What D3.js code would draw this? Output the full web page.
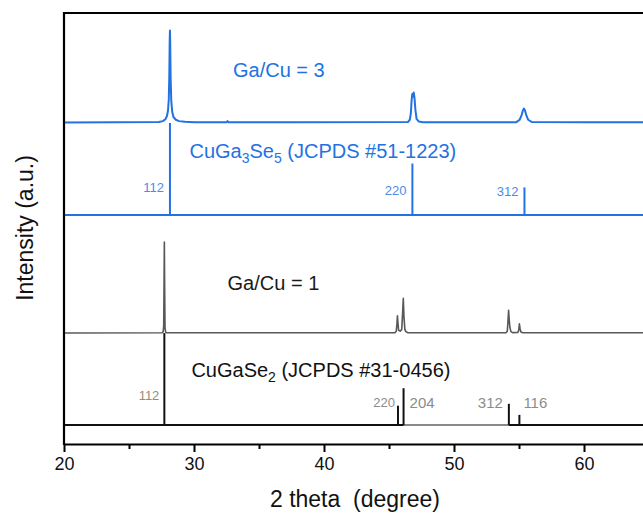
<!DOCTYPE html>
<html>
<head>
<meta charset="utf-8">
<script src="https://cdn.jsdelivr.net/npm/d3@7"></script>
<style>
  html, body { margin: 0; padding: 0; background: #fff; }
  svg { display: block; font-family: "Liberation Sans", Arial, sans-serif; }
</style>
</head>
<body>
<svg id="chart" width="643" height="514"></svg>
<script>
// ---- data -----------------------------------------------------------------
const thetaDomain = [20, 65];
const majorTicks = [20, 30, 40, 50, 60];
const minorTicks = [25, 35, 45, 55, 65];

// Measured XRD profile, Ga/Cu = 3 : [2θ (deg), relative intensity]
const gaCu3Profile = [
  [20, 0], [24, 0.3], [27.3, 0.6], [27.6, 1.5], [27.8, 3.5], [27.92, 7], [28.0, 13],
  [28.06, 25], [28.1, 50], [28.13, 88], [28.15, 100], [28.17, 86], [28.2, 50],
  [28.25, 24], [28.32, 12], [28.42, 6], [28.6, 3], [28.85, 1.5], [29.3, 0.7],
  [30, 0.3], [32.5, 0.2], [32.58, 1.5], [32.66, 0.2], [38, 0.3],
  [46.45, 0.5], [46.6, 3], [46.68, 10], [46.74, 24], [46.79, 31], [46.84, 28],
  [46.9, 32.6], [46.96, 27], [47.03, 14], [47.12, 4], [47.3, 1], [47.6, 0.3],
  [54.8, 0.4], [55.05, 3], [55.2, 8], [55.3, 13], [55.38, 15.2], [55.46, 13],
  [55.56, 8], [55.7, 3], [56.0, 0.5], [60, 0.3], [65, 0.2]
];

// Measured XRD profile, Ga/Cu = 1 : [2θ (deg), relative intensity]
const gaCu1Profile = [
  [20, 0], [27.55, 0.2], [27.63, 1.5], [27.67, 8], [27.7, 60], [27.72, 100],
  [27.74, 55], [27.77, 6], [27.82, 1], [27.9, 0.3],
  [45.45, 0.3], [45.56, 2], [45.61, 10], [45.65, 19], [45.69, 11], [45.74, 3],
  [45.86, 2], [45.98, 4], [46.04, 20], [46.1, 38], [46.15, 18], [46.22, 4],
  [46.3, 1.5], [46.45, 0.3],
  [54.0, 0.3], [54.1, 2], [54.15, 12], [54.2, 25], [54.25, 14], [54.3, 6],
  [54.38, 1.5], [54.5, 0.4], [54.9, 0.5], [54.98, 3], [55.03, 10], [55.08, 5],
  [55.15, 1], [55.3, 0.3], [65, 0.2]
];

// Reference patterns
const cuGa3Se5Theta = [28.15, 46.8, 55.42];
const cuGa3Se5Intensity = [100, 56, 30];
const cuGa3Se5Hkl = ["112", "220", "312"];

const cuGaSe2Theta = [27.72, 45.69, 46.12, 54.22, 55.03];
const cuGaSe2Intensity = [100, 21, 40, 23, 11];
const cuGaSe2Hkl = ["112", "220", "204", "312", "116"];

// ---- layout ---------------------------------------------------------------
const plotLeft = 64, plotRight = 649, plotTop = 13, plotBottom = 444;

const BLUE = "#2372e2";
const BLUE_LABEL = "#4a8ce8";
const GREY = "#585858";

const svg = d3.select("#chart");
const x = d3.scaleLinear().domain(thetaDomain).range([plotLeft, plotRight]);

// one vertical band per pattern: baseline pixel and height of 100 %
function band(base, height) {
  return d3.scaleLinear().domain([0, 100]).range([base, base - height]);
}
const yGaCu3 = band(122.5, 92);
const yRef3 = band(215, 92);
const yGaCu1 = band(333, 91);
const yRef1 = band(425, 92);

svg.append("defs").append("clipPath").attr("id", "plotclip")
  .append("rect").attr("x", plotLeft).attr("y", plotTop)
  .attr("width", plotRight - plotLeft).attr("height", plotBottom - plotTop);

const g = svg.append("g").attr("clip-path", "url(#plotclip)");

// measured profiles
const lineGen = (y) => d3.line().x(d => x(d[0])).y(d => y(d[1]));
g.append("path").datum(gaCu3Profile)
  .attr("d", lineGen(yGaCu3)).attr("fill", "none")
  .attr("stroke", BLUE).attr("stroke-width", 2).attr("stroke-linejoin", "round");
g.append("path").datum(gaCu1Profile)
  .attr("d", lineGen(yGaCu1)).attr("fill", "none")
  .attr("stroke", GREY).attr("stroke-width", 1.6).attr("stroke-linejoin", "round");

// reference baselines
g.append("line").attr("x1", x(thetaDomain[0])).attr("x2", x(thetaDomain[1]))
  .attr("y1", yRef3(0)).attr("y2", yRef3(0))
  .attr("stroke", BLUE).attr("stroke-width", 2);
g.append("line").attr("x1", x(thetaDomain[0])).attr("x2", x(thetaDomain[1]))
  .attr("y1", yRef1(0)).attr("y2", yRef1(0))
  .attr("stroke", "#111").attr("stroke-width", 2);
g.append("line").attr("x1", x(cuGaSe2Theta[2])).attr("x2", x(cuGaSe2Theta[3]))
  .attr("y1", yRef1(0)).attr("y2", yRef1(0))
  .attr("stroke", "#8a8a8a").attr("stroke-width", 2);

// reference sticks
const ref3 = cuGa3Se5Theta.map((t, i) => ({ t, v: cuGa3Se5Intensity[i], hkl: cuGa3Se5Hkl[i] }));
const ref1 = cuGaSe2Theta.map((t, i) => ({ t, v: cuGaSe2Intensity[i], hkl: cuGaSe2Hkl[i] }));

g.selectAll(".stick3").data(ref3).join("line")
  .attr("x1", d => x(d.t)).attr("x2", d => x(d.t))
  .attr("y1", yRef3(0)).attr("y2", d => yRef3(d.v))
  .attr("stroke", BLUE).attr("stroke-width", 2);
g.selectAll(".stick1").data(ref1).join("line")
  .attr("x1", d => x(d.t)).attr("x2", d => x(d.t))
  .attr("y1", yRef1(0)).attr("y2", d => yRef1(d.v))
  .attr("stroke", "#111").attr("stroke-width", 2);

// hkl labels
const hkl3Style = { "112": { side: -1, dy: 23, size: 13 }, "220": { side: -1, dy: 20, size: 13 }, "312": { side: -1, dy: 19, size: 13 } };
svg.selectAll(".hkl3").data(ref3).join("text")
  .attr("x", d => x(d.t) + hkl3Style[d.hkl].side * 6)
  .attr("y", d => yRef3(0) - hkl3Style[d.hkl].dy)
  .attr("text-anchor", d => hkl3Style[d.hkl].side < 0 ? "end" : "start")
  .attr("font-size", d => hkl3Style[d.hkl].size)
  .attr("fill", BLUE_LABEL)
  .text(d => d.hkl);

const hkl1Style = {
  "112": { side: -1, gap: 5, dy: 25, size: 13, color: "#9b8b72" },
  "220": { side: -1, gap: 3, dy: 18, size: 13, color: "#8c8c8c" },
  "204": { side: 1, gap: 6, dy: 17, size: 15, color: "#8c8c8c" },
  "312": { side: -1, gap: 6, dy: 17, size: 15, color: "#8c8c8c" },
  "116": { side: 1, gap: 4, dy: 17, size: 15, color: "#8c8c8c" }
};
svg.selectAll(".hkl1").data(ref1).join("text")
  .attr("x", d => x(d.t) + hkl1Style[d.hkl].side * hkl1Style[d.hkl].gap)
  .attr("y", d => yRef1(0) - hkl1Style[d.hkl].dy)
  .attr("text-anchor", d => hkl1Style[d.hkl].side < 0 ? "end" : "start")
  .attr("font-size", d => hkl1Style[d.hkl].size)
  .attr("fill", d => hkl1Style[d.hkl].color)
  .text(d => d.hkl);

// pattern captions
svg.append("text").attr("x", x(33.0)).attr("y", 77)
  .attr("font-size", 20).attr("fill", BLUE).text("Ga/Cu = 3");

const t3 = svg.append("text").attr("x", x(29.65)).attr("y", 158)
  .attr("font-size", 20).attr("fill", BLUE);
t3.append("tspan").text("CuGa");
t3.append("tspan").attr("font-size", 14).attr("dy", 5).text("3");
t3.append("tspan").attr("dy", -5).text("Se");
t3.append("tspan").attr("font-size", 14).attr("dy", 5).text("5");
t3.append("tspan").attr("dy", -5).text(" (JCPDS #51-1223)");

svg.append("text").attr("x", x(32.58)).attr("y", 290)
  .attr("font-size", 20).attr("fill", "#1a1a1a").text("Ga/Cu = 1");

const t1 = svg.append("text").attr("x", x(29.8)).attr("y", 377)
  .attr("font-size", 20).attr("fill", "#111");
t1.append("tspan").text("CuGaSe");
t1.append("tspan").attr("font-size", 14).attr("dy", 5).text("2");
t1.append("tspan").attr("dy", -5).text(" (JCPDS #31-0456)");

// frame & axes
svg.append("line").attr("x1", plotLeft).attr("x2", plotRight)
  .attr("y1", plotTop).attr("y2", plotTop)
  .attr("stroke", "#000").attr("stroke-width", 2.2);

const xAxis = svg.append("g").attr("transform", `translate(0,${plotBottom})`)
  .call(d3.axisBottom(x).tickValues(majorTicks).tickSize(8).tickSizeOuter(0).tickPadding(5));
xAxis.select(".domain").attr("stroke", "#000").attr("stroke-width", 2.2);
xAxis.selectAll(".tick line").attr("stroke", "#000").attr("stroke-width", 2);
xAxis.selectAll(".tick text").attr("font-size", 18).attr("fill", "#111")
  .attr("font-family", "'Liberation Sans', Arial, sans-serif");

const xMinor = svg.append("g").attr("transform", `translate(0,${plotBottom})`)
  .call(d3.axisBottom(x).tickValues(minorTicks).tickSize(5).tickSizeOuter(0).tickFormat(""));
xMinor.select(".domain").remove();
xMinor.selectAll(".tick line").attr("stroke", "#000").attr("stroke-width", 2);

svg.append("line").attr("x1", plotLeft).attr("x2", plotLeft)
  .attr("y1", plotTop - 1.1).attr("y2", plotBottom + 1)
  .attr("stroke", "#000").attr("stroke-width", 2.2);

// axis titles
svg.append("text").attr("x", 355).attr("y", 507).attr("text-anchor", "middle")
  .style("white-space", "pre")
  .attr("font-size", 23).attr("fill", "#111").text("2 theta  (degree)");
svg.append("text").attr("transform", "translate(33,228) rotate(-90)")
  .attr("text-anchor", "middle").attr("font-size", 23).attr("fill", "#111")
  .text("Intensity (a.u.)");
</script>
</body>
</html>
